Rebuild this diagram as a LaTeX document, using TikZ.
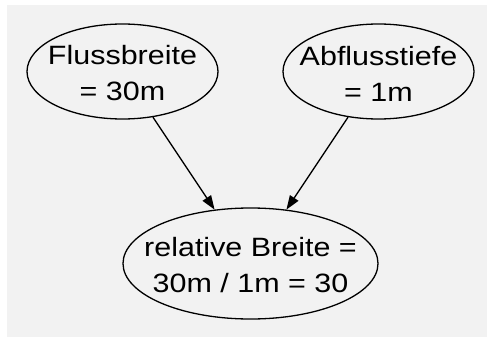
\documentclass[tikz,border=0pt]{standalone}
\usepackage{fontspec}
\setmainfont{Liberation Sans}[FakeStretch=1.15]
\usepackage{xcolor}
\usepackage{tikz}
\usetikzlibrary{shapes.geometric, arrows.meta}

\definecolor{bggray}{RGB}{242,242,242}

\tikzset{
    varnode/.style={ellipse, draw, line width=1.3pt, inner sep=0pt,
        minimum width=191pt, minimum height=95pt},
    resnode/.style={varnode, minimum width=255pt, minimum height=111pt},
    txt/.style={align=center, font=\fontsize{26.5}{36}\selectfont, inner sep=0pt, yshift=-2pt},
    edge/.style={-{Triangle[length=14pt,width=10pt]}, line width=1.3pt}
}

\begin{document}
\begin{tikzpicture}[x=1pt, y=-1pt]

        % canvas
        \useasboundingbox (0,0) rectangle (487,337);
        \fill[bggray] (7,5) rectangle (487,337);

        % inputs
        \node[varnode, label={[txt]center:Flussbreite\\= 30m}] (breite) at (122.5,71.5) {};
        \node[varnode, label={[txt]center:Abflusstiefe\\= 1m}] (tiefe) at (378.5,71.5) {};

        % result
        \node[resnode, label={[txt]center:relative Breite =\\30m / 1m = 30}] (relativ) at (250.5,263.5) {};

        % edges
        \draw[edge] (breite) -- (relativ);
        \draw[edge] (tiefe) -- (relativ);

\end{tikzpicture}
\end{document}
